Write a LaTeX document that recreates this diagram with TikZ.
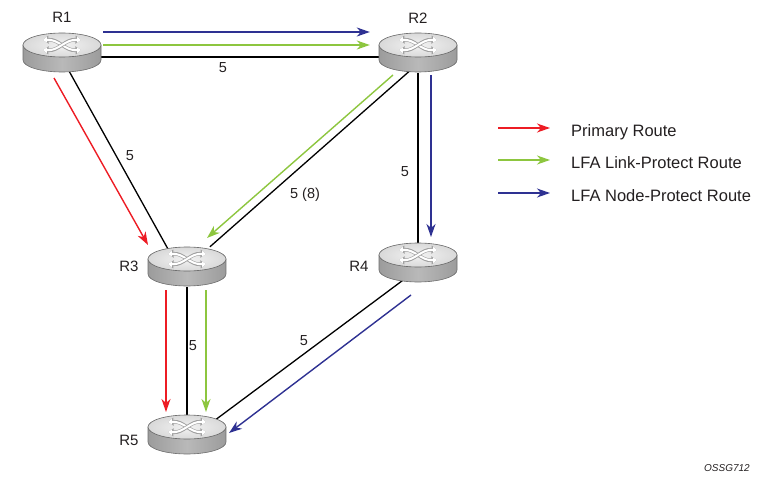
\documentclass[tikz,border=0pt]{standalone}
\usepackage{fontspec}
\setmainfont{Liberation Sans}
\usepackage{xcolor}
\usepackage{tikz}
\usetikzlibrary{shapes,arrows,positioning,calc,arrows.meta}
\pgfdeclarelayer{background}
\pgfsetlayers{background,main}

\definecolor{primaryred}{HTML}{ED1C24}
\definecolor{lfagreen}{HTML}{8DC63F}
\definecolor{lfablue}{HTML}{2E3192}
\definecolor{labeltext}{HTML}{231F20}

\tikzset{
  link/.style={black, line width=1.3pt},
  route/.style={line width=1.4pt, -{Stealth[length=13pt,width=9pt,inset=4pt]}},
  primary/.style={route, primaryred},
  linkprot/.style={route, lfagreen},
  nodeprot/.style={route, lfablue},
  routernode/.style={rectangle, minimum width=78pt, minimum height=40pt, inner sep=0pt},
  routerbody/.style={draw=gray!85!black, line width=0.6pt, left color=gray!78, right color=gray!78, middle color=gray!55},
  routertop/.style={draw=gray!80!black, line width=0.6pt, inner color=gray!10, outer color=gray!30},
  symedge/.style={gray!75, line width=3.6pt, {Triangle[length=5.5pt,width=8pt]}-{Triangle[length=5.5pt,width=8pt]}},
  symfill/.style={white, line width=2pt, {Triangle[length=4pt,width=5.6pt]}-{Triangle[length=4pt,width=5.6pt]}},
  rname/.style={font=\fontsize{15}{18}\selectfont, text=labeltext, inner sep=0pt},
  cost/.style={font=\fontsize{14.5}{17}\selectfont, text=labeltext, inner sep=0pt},
  legtext/.style={font=\fontsize{16.5}{20}\selectfont, text=labeltext, inner sep=0pt, anchor=base west},
  figtag/.style={font=\fontsize{10}{12}\selectfont\itshape, text=labeltext, inner sep=0pt},
}

% router icon: name, x, y
\newcommand{\router}[3]{%
  \begin{scope}[shift={(#2,#3)}]
    \path[routerbody] (-39,-8) -- (-39,7) arc[start angle=180, end angle=0, x radius=39, y radius=12] -- (39,-8) -- cycle;
    \path[routertop] (0,-8) ellipse[x radius=39, y radius=12];
    \foreach \s in {1,-1} {
      \draw[symedge] (-19,-8-5*\s) .. controls (-3,-8-6*\s) and (3,-8+6*\s) .. (19,-8+5*\s);
      \draw[symfill] (-19,-8-5*\s) .. controls (-3,-8-6*\s) and (3,-8+6*\s) .. (19,-8+5*\s);
    }
  \end{scope}
  \node[routernode] (#1) at (#2,#3) {};
}

\begin{document}
\begin{tikzpicture}[x=1pt, y=-1pt]
    \useasboundingbox (0,0) rectangle (774,487);

    % routers
    \router{R1}{62}{53}
    \router{R2}{418}{53}
    \router{R3}{187}{267}
    \router{R4}{418}{263}
    \router{R5}{187}{435}

    \node[rname] (nR1) at (62,17) {R1};
    \node[rname] (nR2) at (418,18) {R2};
    \node[rname] (nR3) at (129,266) {R3};
    \node[rname] (nR4) at (359,266) {R4};
    \node[rname] (nR5) at (129,440) {R5};

    % links
    \begin{pgfonlayer}{background}
      \draw[link] ($(R1)+(0,4)$) -- ($(R2)+(0,4)$);
      \draw[link] ($(R1)+(-3,0)$) -- ($(R3)+(-9,0)$);
      \draw[link] ($(R2)+(-5,15)$) -- (R3);
      \draw[link] (R2) -- (R4);
      \draw[link] (R3) -- (R5);
      \draw[link] ($(R4)+(0,6)$) -- ($(R5)+(0,6)$);
    \end{pgfonlayer}

    \node[cost] (c12) at (223,68) {5};
    \node[cost] (c13) at (130,156) {5};
    \node[cost] (c23) at (305,195) {5 (8)};
    \node[cost] (c24) at (405,172) {5};
    \node[cost] (c35) at (193,346) {5};
    \node[cost] (c45) at (304,341) {5};

    % routes
    \draw[nodeprot] ($(R1.east)+(2,-21)$) -- ($(R2.west)+(-9,-21)$);
    \draw[linkprot] ($(R1.east)+(2,-8)$) -- ($(R2.west)+(-9,-8)$);
    \draw[primary] ($(R1)+(-8,25)$) -- ($(R3)+(-39,-22)$);
    \draw[linkprot] ($(R2)+(-25,22)$) -- ($(R3)+(20,-29)$);
    \draw[nodeprot] ($(R2)+(13,22)$) -- ($(R4)+(13,-26)$);
    \draw[primary] ($(R3)+(-21,23)$) -- ($(R5)+(-21,-23)$);
    \draw[linkprot] ($(R3)+(19,23)$) -- ($(R5)+(19,-23)$);
    \draw[nodeprot] ($(R4)+(-7,32)$) -- ($(R5)+(42,-2)$);

    % legend
    \node[legtext] (legprimary) at (571,136) {Primary Route};
    \node[legtext] (leglink) at (571,168) {LFA Link-Protect Route};
    \node[legtext] (legnode) at (571,201) {LFA Node-Protect Route};
    \draw[primary] ($(legprimary.base west)+(-73,-8)$) -- ++(52,0);
    \draw[linkprot] ($(leglink.base west)+(-73,-8)$) -- ++(52,0);
    \draw[nodeprot] ($(legnode.base west)+(-73,-8)$) -- ++(52,0);

    \node[figtag] (figid) at (727,468) {OSSG712};
\end{tikzpicture}
\end{document}
